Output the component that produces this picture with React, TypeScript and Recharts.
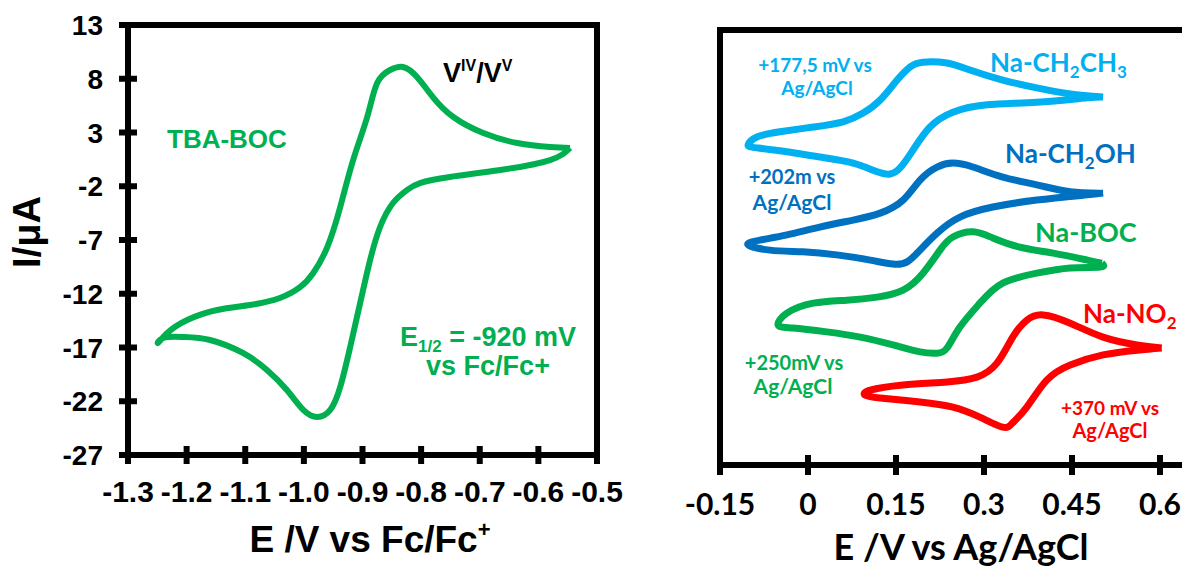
import { LineChart, Line, XAxis, YAxis, ReferenceArea } from "recharts";

// TBA-BOC, E / V vs Fc/Fc+ and I / µA (loop from the right vertex)
const tbaBocE = [
  -0.546, -0.58, -0.665, -0.751, -0.802, -0.824, -0.848, -0.87, -0.887, -0.904, -0.921,
  -0.938, -0.955, -0.977, -1.001, -1.029, -1.063, -1.104, -1.16, -1.206, -1.24, -1.249,
  -1.233, -1.199, -1.148, -1.092, -1.041, -1.006, -0.984, -0.96, -0.938, -0.916, -0.892,
  -0.875, -0.853, -0.831, -0.807, -0.78, -0.745, -0.694, -0.636, -0.58, -0.546,
];
const tbaBocI = [
  1.56, 0.44, -0.49, -1.14, -1.7, -2.35, -3.56, -5.79, -8.86, -12.86, -16.95, -20.67,
  -22.81, -23.47, -22.81, -20.95, -19.09, -17.51, -16.3, -16.02, -16.12, -16.58, -15.65,
  -14.44, -13.51, -13.05, -12.4, -11.37, -10.07, -7.65, -3.93, 0.44, 4.44, 7.6, 8.81, 9.09,
  8.16, 6.3, 4.44, 2.95, 2.02, 1.65, 1.56,
];

// sodium salts, E / V vs Ag/AgCl, current in arbitrary offset units
const ch2ch3E = [
  0.503, 0.447, 0.39, 0.332, 0.276, 0.237, 0.196, 0.174, 0.152, 0.123, 0.094, 0.06, 0.009,
  -0.048, -0.087, -0.102, -0.087, -0.036, 0.02, 0.077, 0.118, 0.14, 0.157, 0.179, 0.208,
  0.247, 0.305, 0.39, 0.476, 0.503,
];
const ch2ch3I = [
  84.6, 85.3, 86.7, 88.5, 90.8, 92.4, 92.6, 91.5, 88.5, 83.9, 80.9, 78.9, 77.7, 76.6, 75.4,
  73.6, 72.9, 72.0, 70.8, 69.4, 67.4, 66.9, 68.3, 72.4, 77.7, 81.1, 82.8, 83.4, 84.4, 84.6,
];
const ch2ohE = [
  0.503, 0.447, 0.39, 0.332, 0.281, 0.247, 0.22, 0.191, 0.162, 0.123, 0.077, 0.02, -0.036,
  -0.082, -0.102, -0.065, -0.009, 0.049, 0.106, 0.145, 0.169, 0.191, 0.22, 0.259, 0.315,
  0.39, 0.476, 0.503,
];
const ch2ohI = [
  62.5, 62.8, 64.4, 66.2, 68.5, 69.4, 68.5, 65.5, 60.9, 57.9, 56.3, 54.7, 52.9, 51.7, 50.6,
  49.4, 49.0, 48.3, 47.1, 46.2, 46.7, 49.4, 53.3, 57.0, 59.3, 60.9, 62.1, 62.5,
];
const bocE = [
  0.501, 0.476, 0.418, 0.361, 0.315, 0.281, 0.247, 0.225, 0.196, 0.162, 0.118, 0.066, 0.009,
  -0.036, -0.051, -0.026, 0.032, 0.089, 0.145, 0.191, 0.22, 0.237, 0.259, 0.293, 0.332, 0.39,
  0.447, 0.498, 0.501,
];
const bocI = [
  46.4, 47.1, 48.7, 50.1, 52.2, 53.6, 52.4, 49.4, 44.1, 40.2, 38.6, 37.9, 37.2, 34.9, 32.2,
  31.5, 30.6, 29.4, 27.6, 26.0, 25.7, 26.9, 31.7, 37.2, 41.8, 44.1, 45.3, 45.5, 46.4,
];
const no2E = [
  0.603, 0.561, 0.503, 0.447, 0.401, 0.373, 0.349, 0.322, 0.288, 0.237, 0.162, 0.106, 0.097,
  0.123, 0.191, 0.247, 0.293, 0.332, 0.349, 0.373, 0.407, 0.447, 0.503, 0.561, 0.603,
];
const no2I = [
  26.9, 27.6, 29.4, 32.6, 34.5, 33.3, 29.4, 23.4, 20.2, 19.1, 18.4, 17.2, 16.1, 15.4, 14.5,
  13.3, 11.0, 8.7, 9.7, 13.3, 19.5, 23.0, 25.3, 26.4, 26.9,
];

const leftXTicks = [-1.3, -1.2, -1.1, -1.0, -0.9, -0.8, -0.7, -0.6, -0.5];
const leftYTicks = [13, 8, 3, -2, -7, -12, -17, -22, -27];
const rightXTicks = [-0.15, 0, 0.15, 0.3, 0.45, 0.6];
const rightXLabels = ["-0.15", "0", "0.15", "0.3", "0.45", "0.6"];

const zip = (e: number[], i: number[]) => e.map((v, k) => ({ e: v, i: i[k] }));

const ARIAL = '"Liberation Sans", Arial, sans-serif';
const CALIBRI = 'Lato, "Open Sans", sans-serif';
const GREEN = "#00b050";

function LeftYTick(props: any) {
  const { x, y, payload } = props;
  const ax = x + 25;
  return (
    <g>
      <line x1={ax - 9} x2={ax + 9} y1={y} y2={y} stroke="#000" strokeWidth={6} />
      <text x={x} y={y} dy={10} textAnchor="end" fontFamily={ARIAL} fontWeight={700} fontSize={28} fill="#000">
        {payload.value}
      </text>
    </g>
  );
}

function LeftXTick(props: any) {
  const { x, y, payload } = props;
  const ay = y - 18;
  return (
    <g>
      <line x1={x} x2={x} y1={ay - 9} y2={ay + 9} stroke="#000" strokeWidth={6} />
      <text x={x} y={y} dy={29} textAnchor="middle" fontFamily={ARIAL} fontWeight={700} fontSize={30} fill="#000">
        {Number(payload.value).toFixed(1)}
      </text>
    </g>
  );
}

function RightXTick(props: any) {
  const { x, y, payload, index } = props;
  const ay = y - 18;
  return (
    <g>
      <line x1={x} x2={x} y1={ay - 10} y2={ay + 10} stroke="#000" strokeWidth={6} />
      <text x={x} y={y} dy={32} textAnchor="middle" fontFamily={CALIBRI} fontWeight={700} fontSize={30} fill="#000">
        {rightXLabels[index] ?? String(payload.value)}
      </text>
    </g>
  );
}

function LeftPanel() {
  return (
    <LineChart width={645} height={567} margin={{ top: 25, right: 48, bottom: 82, left: 68 }}>
      <XAxis
        dataKey="e"
        type="number"
        domain={[-1.3, -0.5]}
        ticks={leftXTicks}
        interval={0}
        allowDataOverflow
        axisLine={false}
        tickLine={false}
        tickSize={8}
        tickMargin={10}
        height={30}
        tick={LeftXTick}
      />
      <YAxis
        type="number"
        domain={[-27, 13]}
        ticks={leftYTicks}
        interval={0}
        allowDataOverflow
        axisLine={false}
        tickLine={false}
        tickSize={8}
        tickMargin={17}
        width={60}
        tick={LeftYTick}
      />
      <ReferenceArea x1={-1.3} x2={-0.5} y1={-27} y2={13} fill="none" stroke="#000" strokeWidth={6} ifOverflow="visible" />
      <Line
        data={zip(tbaBocE, tbaBocI)}
        dataKey="i"
        type="natural"
        stroke={GREEN}
        strokeWidth={6}
        dot={false}
        isAnimationActive={false}
      />
    </LineChart>
  );
}

const rightSeries = [
  { name: "Na-CH2CH3", e: ch2ch3E, i: ch2ch3I, color: "#00b0f0" },
  { name: "Na-CH2OH", e: ch2ohE, i: ch2ohI, color: "#0070c0" },
  { name: "Na-BOC", e: bocE, i: bocI, color: GREEN },
  { name: "Na-NO2", e: no2E, i: no2I, color: "#ff0000" },
];

function RightPanel() {
  return (
    <LineChart width={620} height={567} margin={{ top: 30, right: 50.7, bottom: 72, left: 100 }}>
      <XAxis
        dataKey="e"
        type="number"
        domain={[-0.15, 0.65]}
        ticks={rightXTicks}
        interval={0}
        allowDataOverflow
        axisLine={false}
        tickLine={false}
        tickSize={8}
        tickMargin={10}
        height={30}
        tick={RightXTick}
      />
      <YAxis type="number" domain={[0, 100]} hide allowDataOverflow />
      <ReferenceArea x1={-0.15} x2={0.65} y1={0} y2={100} fill="none" stroke="#000" strokeWidth={6} ifOverflow="visible" />
      {rightSeries.map((s) => (
        <Line
          key={s.name}
          name={s.name}
          data={zip(s.e, s.i)}
          dataKey="i"
          type="natural"
          stroke={s.color}
          strokeWidth={7}
          dot={false}
          isAnimationActive={false}
        />
      ))}
    </LineChart>
  );
}

function Annotations() {
  const b = { fontWeight: 700 } as const;
  return (
    <svg width={1182} height={567} style={{ position: "absolute", left: 0, top: 0, pointerEvents: "none" }}>
      <g fontFamily={ARIAL} {...b}>
        <text transform="translate(40,232) rotate(-90)" textAnchor="middle" fontSize={38} fill="#000">
          I/μA
        </text>
        <text x={370} y={552} textAnchor="middle" fontSize={37} fill="#000">
          E /V vs Fc/Fc<tspan fontSize={22} dy={-15}>+</tspan>
        </text>
        <text x={167} y={148} fontSize={26} fill={GREEN}>
          TBA-BOC
        </text>
        <text x={443} y={82} fontSize={27} fill="#000">
          V<tspan fontSize={16} dy={-11}>IV</tspan>
          <tspan fontSize={27} dy={11}>/V</tspan>
          <tspan fontSize={16} dy={-11}>V</tspan>
        </text>
        <text x={488} y={346} textAnchor="middle" fontSize={27} fill={GREEN}>
          E<tspan fontSize={17} dy={6}>1/2</tspan>
          <tspan fontSize={27} dy={-6}> = -920 mV</tspan>
        </text>
        <text x={488} y={375} textAnchor="middle" fontSize={27} fill={GREEN}>
          vs Fc/Fc+
        </text>
      </g>
      <g fontFamily={CALIBRI} {...b}>
        <text x={961} y={560} textAnchor="middle" fontSize={36} fill="#000">
          E /V vs Ag/AgCl
        </text>
        <text x={815} y={72} textAnchor="middle" fontSize={19} fill="#00b0f0">
          +177,5 mV vs
        </text>
        <text x={817} y={95} textAnchor="middle" fontSize={19} fill="#00b0f0">
          Ag/AgCl
        </text>
        <text x={990} y={72} fontSize={26} fill="#00b0f0">
          Na-CH<tspan fontSize={17} dy={6}>2</tspan>
          <tspan fontSize={26} dy={-6}>CH</tspan>
          <tspan fontSize={17} dy={6}>3</tspan>
        </text>
        <text x={792} y={184} textAnchor="middle" fontSize={20} fill="#0070c0">
          +202m vs
        </text>
        <text x={792} y={210} textAnchor="middle" fontSize={21} fill="#0070c0">
          Ag/AgCl
        </text>
        <text x={1005} y={163} fontSize={26} fill="#0070c0">
          Na-CH<tspan fontSize={17} dy={6}>2</tspan>
          <tspan fontSize={26} dy={-6}>OH</tspan>
        </text>
        <text x={1035} y={242} fontSize={27} fill={GREEN}>
          Na-BOC
        </text>
        <text x={794} y={370} textAnchor="middle" fontSize={20} fill={GREEN}>
          +250mV vs
        </text>
        <text x={793} y={394} textAnchor="middle" fontSize={21} fill={GREEN}>
          Ag/AgCl
        </text>
        <text x={1083} y={323} fontSize={26} fill="#ff0000">
          Na-NO<tspan fontSize={17} dy={6}>2</tspan>
        </text>
        <text x={1110} y={415} textAnchor="middle" fontSize={19} fill="#ff0000">
          +370 mV vs
        </text>
        <text x={1110} y={438} textAnchor="middle" fontSize={20} fill="#ff0000">
          Ag/AgCl
        </text>
      </g>
    </svg>
  );
}

export default function App() {
  return (
    <div
      style={{
        position: "fixed",
        left: 0,
        top: 0,
        width: 1182,
        height: 567,
        overflow: "hidden",
        background: "#fff",
      }}
    >
      <div style={{ position: "absolute", left: 0, top: 0 }}>
        <LeftPanel />
      </div>
      <div style={{ position: "absolute", left: 620, top: 0 }}>
        <RightPanel />
      </div>
      <Annotations />
    </div>
  );
}
